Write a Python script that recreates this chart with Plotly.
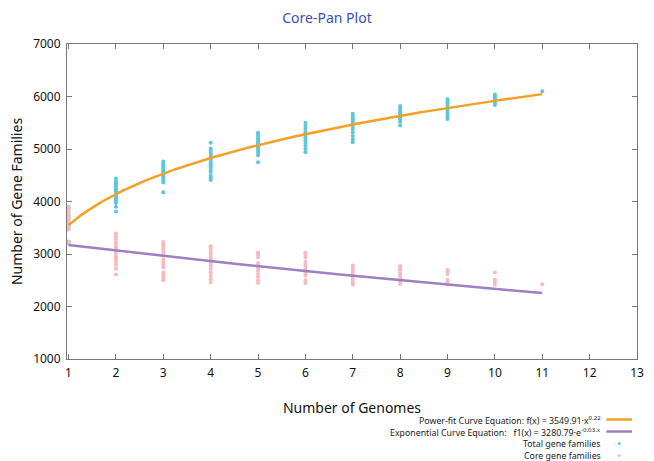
import numpy as np
import plotly.graph_objects as go

# ---- data ----
genomes = [1, 2, 3, 4, 5, 6, 7, 8, 9, 10, 11]

total_values = [
    [3900, 3870, 3806, 3743, 3699, 3648, 3585, 3534, 3471, 3234, 3203],
    [4440, 4380, 4350, 4320, 4290, 4250, 4220, 4190, 4150, 4120, 4090, 4060, 4030, 4000, 3970, 3900, 3810],
    [4760, 4720, 4690, 4650, 4620, 4590, 4560, 4530, 4500, 4470, 4440, 4400, 4360, 4175],
    [5120, 5010, 4970, 4930, 4890, 4850, 4810, 4770, 4730, 4690, 4650, 4600, 4560, 4490, 4450, 4410],
    [5310, 5270, 5230, 5190, 5150, 5110, 5080, 5050, 5010, 4970, 4930, 4880, 4750],
    [5500, 5440, 5380, 5320, 5270, 5220, 5170, 5120, 5060, 5000, 4940],
    [5670, 5630, 5590, 5560, 5520, 5480, 5440, 5380, 5320, 5250, 5180, 5130],
    [5820, 5780, 5740, 5700, 5670, 5640, 5600, 5560, 5520, 5450],
    [5950, 5910, 5870, 5830, 5790, 5750, 5700, 5650, 5600, 5570],
    [6040, 6000, 5960, 5920, 5880, 5840],
    [6099],
]

core_values = [
    [3900, 3870, 3806, 3743, 3699, 3648, 3585, 3534, 3471, 3234, 3203],
    [3390, 3340, 3290, 3230, 3180, 3130, 3090, 3050, 3000, 2950, 2900, 2850, 2790, 2720, 2610],
    [3230, 3190, 3150, 3100, 3050, 2980, 2900, 2850, 2800, 2750, 2650, 2600, 2550, 2500],
    [3150, 3110, 3050, 2990, 2940, 2880, 2830, 2780, 2720, 2650, 2580, 2520, 2460],
    [3030, 2990, 2940, 2830, 2780, 2730, 2680, 2620, 2560, 2500, 2450],
    [3030, 2990, 2940, 2850, 2790, 2740, 2690, 2640, 2590, 2500, 2450],
    [2780, 2740, 2700, 2660, 2620, 2570, 2520, 2460, 2420],
    [2770, 2730, 2690, 2640, 2590, 2540, 2480, 2430],
    [2700, 2660, 2620, 2510, 2460, 2420],
    [2650, 2510, 2470, 2420],
    [2423],
]

# fit-curve parameters
POWER_A, POWER_B = 3549.91, 0.222
EXP_A, EXP_B = 3280.79, 0.034

x_ticks = [1, 2, 3, 4, 5, 6, 7, 8, 9, 10, 11, 12, 13]
y_ticks = [1000, 2000, 3000, 4000, 5000, 6000, 7000]

legend_labels = [
    "Power-fit Curve Equation: f(x) = 3549.91·x<sup>0.22</sup>",
    "Exponential Curve Equation:   f1(x) = 3280.79·e<sup>-0.03.x</sup>",
    "Total gene families",
    "Core gene families",
]

ORANGE = "#f5a024"
PURPLE = "#9c80c0"
CYAN = "#5cc6dc"
PINK = "#f8b9bf"
FONT = "Noto Sans"

tx, ty = [], []
for g, vals in zip(genomes, total_values):
    tx += [g] * len(vals)
    ty += vals
cx, cy = [], []
for g, vals in zip(genomes, core_values):
    cx += [g] * len(vals)
    cy += vals

xc = np.linspace(genomes[0], genomes[-1], 200)
power_curve = POWER_A * xc ** POWER_B
exp_curve = EXP_A * np.exp(-EXP_B * xc)

fig = go.Figure()
fig.add_trace(go.Scatter(x=tx, y=ty, mode="markers",
                         marker=dict(color=CYAN, size=4), showlegend=False))
fig.add_trace(go.Scatter(x=cx, y=cy, mode="markers",
                         marker=dict(color=PINK, size=4), showlegend=False))
fig.add_trace(go.Scatter(x=xc, y=power_curve, mode="lines",
                         line=dict(color=ORANGE, width=2.5), showlegend=False))
fig.add_trace(go.Scatter(x=xc, y=exp_curve, mode="lines",
                         line=dict(color=PURPLE, width=2.5), showlegend=False))

W, H = 654, 461
ml, mr, mt, mb = 67, 10, 44, 102

def px(xp):
    return (xp - ml) / (W - ml - mr)

def py(yp):
    return (H - mb - yp) / (H - mt - mb)

annotations = []
shapes = []
rows_y = [419.5, 431.5, 443.5, 455.5]
for i, (lab, yy) in enumerate(zip(legend_labels, rows_y)):
    annotations.append(dict(x=px(609), y=py(yy), xref="paper", yref="paper",
                            text=lab, showarrow=False, xanchor="right", yanchor="middle",
                            borderpad=0,
                            font=dict(family=FONT, size=8.8, color="#222222")))
for col, yy in [(ORANGE, rows_y[0]), (PURPLE, rows_y[1])]:
    shapes.append(dict(type="line", xref="paper", yref="paper",
                       x0=px(613), x1=px(639), y0=py(yy), y1=py(yy),
                       line=dict(color=col, width=2.5)))
for col, yy in [(CYAN, rows_y[2]), (PINK, rows_y[3])]:
    shapes.append(dict(type="circle", xref="paper", yref="paper",
                       x0=px(624.5), x1=px(627.5), y0=py(yy - 1.5), y1=py(yy + 1.5),
                       fillcolor=col, line=dict(color=col, width=0)))

fig.update_layout(
    width=W, height=H,
    margin=dict(l=ml, r=mr, t=mt, b=mb),
    plot_bgcolor="white", paper_bgcolor="white",
    font=dict(family=FONT, size=12, color="#111111"),
    title=dict(text="Core-Pan Plot", x=px(355.5), xanchor="center", y=1 - 18 / H,
               yanchor="middle", font=dict(family=FONT, size=14, color="#3a4fb5")),
    xaxis=dict(range=[0.967, 13], tickvals=x_ticks, ticks="inside", ticklen=5,
               tickcolor="#777777", showline=True, linecolor="#777777", linewidth=1,
               mirror="ticks", showgrid=False, zeroline=False,
               tickfont=dict(family=FONT, size=12), ticklabelstandoff=3,
               title=dict(text="Number of Genomes", font=dict(family=FONT, size=14),
                          standoff=22)),
    yaxis=dict(range=[1000, 7000], tickvals=y_ticks, ticks="inside", ticklen=5,
               tickcolor="#777777", showline=True, linecolor="#777777", linewidth=1,
               mirror="ticks", showgrid=False, zeroline=False,
               tickfont=dict(family=FONT, size=12), ticklabelstandoff=3,
               title=dict(text="Number of Gene Families", font=dict(family=FONT, size=14),
                          standoff=7)),
    annotations=annotations,
    shapes=shapes,
)

fig.write_html("out.html")
